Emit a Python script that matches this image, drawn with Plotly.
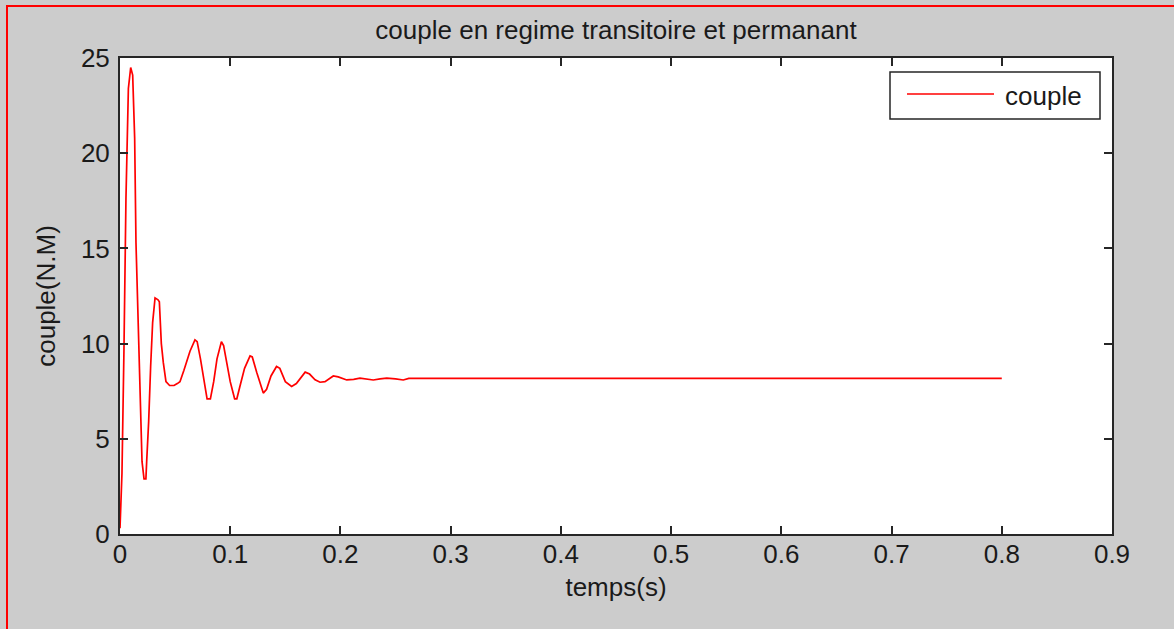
import plotly.graph_objects as go

# time (s) and torque (N.M)
temps = [0.000, 0.0018, 0.0036, 0.0054, 0.0076, 0.0097, 0.0115, 0.0133, 0.0145, 0.0169,
         0.0188, 0.0200, 0.0218, 0.0235, 0.0242, 0.0260, 0.0278, 0.0296, 0.0318, 0.0345,
         0.0357, 0.0375, 0.0393, 0.0417, 0.0450, 0.0490, 0.0520, 0.0544, 0.0580, 0.0635,
         0.0680, 0.0700, 0.0730, 0.0760, 0.0790, 0.0820, 0.0850, 0.0880, 0.0920, 0.0940,
         0.0970, 0.1000, 0.1040, 0.1060, 0.1090, 0.1130, 0.1180, 0.1200, 0.1240, 0.1300,
         0.1330, 0.1370, 0.1420, 0.1450, 0.1500, 0.1557, 0.1600, 0.1680, 0.1720, 0.1770,
         0.1815, 0.1860, 0.1935, 0.1980, 0.2057, 0.2120, 0.2177, 0.2240, 0.2298, 0.2360,
         0.2420, 0.2500, 0.2570, 0.2620, 0.8000]
couple = [0.3, 3.2, 9.7, 17.6, 23.4, 24.5, 24.1, 20.8, 15.3, 10.1,
          6.25, 3.8, 2.9, 2.9, 3.8, 5.9, 8.8, 11.1, 12.4, 12.3,
          12.2, 10.0, 9.0, 8.0, 7.8, 7.8, 7.9, 8.0, 8.6, 9.6,
          10.2, 10.1, 9.2, 8.1, 7.1, 7.1, 8.0, 9.2, 10.1, 9.9,
          9.0, 8.0, 7.1, 7.1, 7.8, 8.7, 9.35, 9.3, 8.5, 7.4,
          7.6, 8.3, 8.8, 8.7, 8.0, 7.75, 7.9, 8.5, 8.4, 8.1,
          7.97, 8.0, 8.3, 8.25, 8.09, 8.12, 8.19, 8.15, 8.09, 8.15,
          8.19, 8.15, 8.09, 8.17, 8.17]

x_ticks = [0, 0.1, 0.2, 0.3, 0.4, 0.5, 0.6, 0.7, 0.8, 0.9]
x_ticktext = ["0", "0.1", "0.2", "0.3", "0.4", "0.5", "0.6", "0.7", "0.8", "0.9"]
y_ticks = [0, 5, 10, 15, 20, 25]
series_name = "couple"

W, H = 1174, 629
L, R, T, B = 120, 62, 58, 95
pw, ph = W - L - R, H - T - B

FONT = "Liberation Sans, Arial, sans-serif"
TXT = "#1a1a1a"
FS = 26


def px_x(px):
    return (px - L) / pw


def px_y(py):
    return 1 - (py - T) / ph


fig = go.Figure()
fig.add_trace(go.Scatter(x=temps, y=couple, mode="lines", name=series_name,
                         line=dict(color="#ff0000", width=1.7), showlegend=False))

axis_common = dict(showline=True, linecolor="#262626", linewidth=2, mirror="ticks",
                   ticks="inside", ticklen=8, tickwidth=1.5, tickcolor="#262626",
                   showgrid=False, zeroline=False,
                   tickfont=dict(family=FONT, size=FS, color=TXT))

fig.update_layout(
    width=W, height=H,
    margin=dict(l=L, r=R, t=T, b=B),
    paper_bgcolor="#cccccc", plot_bgcolor="#ffffff",
    font=dict(family=FONT, size=FS, color=TXT),
    title=dict(text="couple en regime transitoire et permanant", x=(L + pw / 2) / W,
               xanchor="center", y=1 - 30 / H, yanchor="middle",
               font=dict(family=FONT, size=FS, color=TXT)),
    xaxis=dict(range=[0, 0.9], tickvals=x_ticks, ticktext=x_ticktext,
               ticklabelstandoff=-4,
               title=dict(text="temps(s)", standoff=10,
                          font=dict(family=FONT, size=FS, color=TXT)),
               **axis_common),
    yaxis=dict(range=[0, 25], tickvals=y_ticks, ticklabelstandoff=3,
               title=dict(text="couple(N.M)", standoff=18,
                          font=dict(family=FONT, size=FS, color=TXT)),
               **axis_common),
    showlegend=False,
)

# legend box drawn like the MATLAB one
fig.add_shape(type="rect", xref="paper", yref="paper",
              x0=px_x(890), x1=px_x(1100), y0=px_y(119), y1=px_y(72),
              fillcolor="#ffffff", line=dict(color="#262626", width=1.5))
fig.add_shape(type="line", xref="paper", yref="paper",
              x0=px_x(907), x1=px_x(994), y0=px_y(94), y1=px_y(94),
              line=dict(color="#ff0000", width=1.7))
fig.add_annotation(xref="paper", yref="paper", x=px_x(1003), y=px_y(96),
                   xanchor="left", yanchor="middle", text=series_name, showarrow=False,
                   font=dict(family=FONT, size=FS, color=TXT))

# red frame lines at left and top of the window
fig.add_shape(type="line", xref="paper", yref="paper",
              x0=px_x(7), x1=px_x(7), y0=px_y(5), y1=px_y(H + 2),
              line=dict(color="#ff0000", width=2))
fig.add_shape(type="line", xref="paper", yref="paper",
              x0=px_x(7), x1=px_x(W + 2), y0=px_y(6), y1=px_y(6),
              line=dict(color="#ff0000", width=2))

fig.write_html("out.html")
